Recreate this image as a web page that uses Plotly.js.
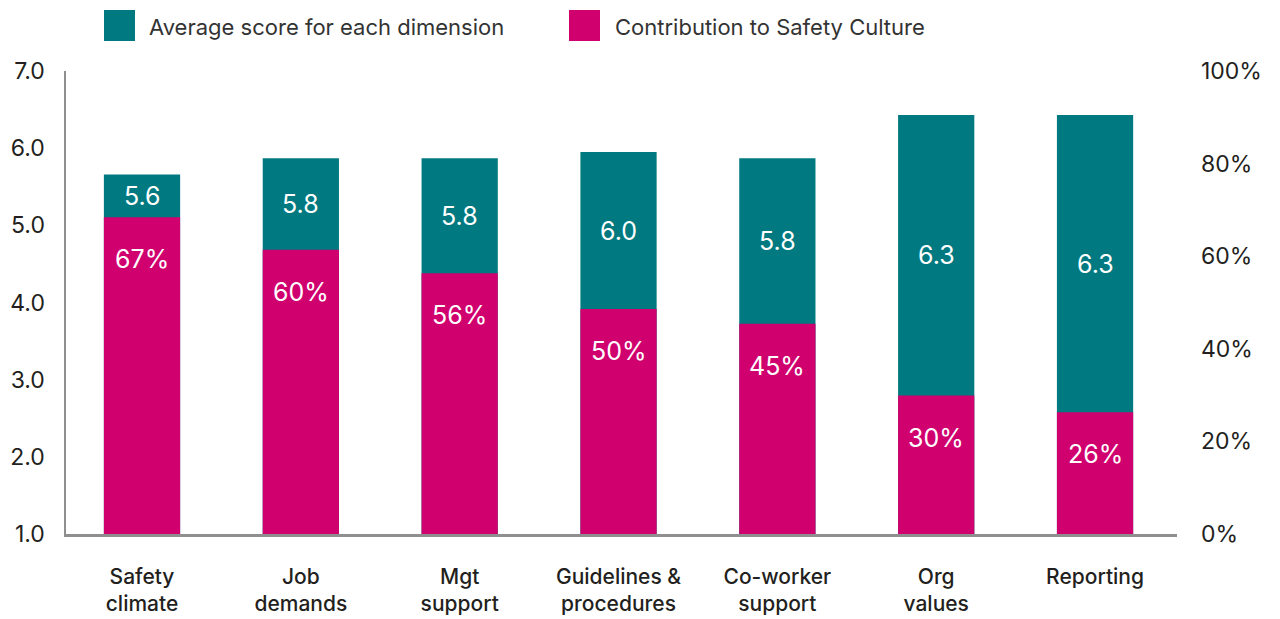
<!DOCTYPE html>
<html>
<head>
<meta charset="utf-8">
<script src="https://cdn.plot.ly/plotly-3.0.1.min.js"></script>
<style>
  html, body { margin: 0; padding: 0; background: #ffffff; }
  #chart { width: 1280px; height: 619px; }
</style>
</head>
<body>
<div id="chart"></div>
<script>
// ---- data ----
const categories = ['Safety<br>climate', 'Job<br>demands', 'Mgt<br>support', 'Guidelines &<br>procedures', 'Co-worker<br>support', 'Org<br>values', 'Reporting'];
// average score bar heights (left axis, 1-7) as drawn
const scoreHeights = [5.66, 5.87, 5.87, 5.95, 5.87, 6.43, 6.43];
// score labels as printed on the bars
const scoreLabels = ['5.6', '5.8', '5.8', '6.0', '5.8', '6.3', '6.3'];
// contribution to safety culture (right axis, %), as drawn
const contribHeights = [68.4, 61.4, 56.3, 48.6, 45.4, 29.9, 26.3];
// contribution labels as printed
const contribLabels = ['67%', '60%', '56%', '50%', '45%', '30%', '26%'];

const seriesNames = ['Average score for each dimension', 'Contribution to Safety Culture'];
const leftTicks = [1, 2, 3, 4, 5, 6, 7];
const rightTicks = [0, 20, 40, 60, 80, 100];

const TEAL = '#007A80';
const PINK = '#D0006F';
const FONT = 'Inter, Lato, "Noto Sans", sans-serif';
const DARK = '#231f20';

const xIdx = categories.map((_, i) => i);

const traces = [
  {
    type: 'bar', name: seriesNames[0], x: xIdx, y: scoreHeights,
    marker: { color: TEAL, line: { width: 0 } }, width: 0.48,
    xaxis: 'x', yaxis: 'y', hoverinfo: 'skip', showlegend: false
  },
  {
    type: 'bar', name: seriesNames[1], x: xIdx, y: contribHeights,
    marker: { color: PINK, line: { width: 0 } }, width: 0.48,
    xaxis: 'x', yaxis: 'y2', hoverinfo: 'skip', showlegend: false
  }
];

const annotations = [];
// score labels: centred in the visible teal part
scoreHeights.forEach((s, i) => {
  const pinkTopLeftUnits = 1 + contribHeights[i] / 100 * 6;
  annotations.push({
    x: i, y: (s + pinkTopLeftUnits) / 2, xref: 'x', yref: 'y',
    text: scoreLabels[i], showarrow: false, xanchor: 'center', yanchor: 'middle',
    font: { family: FONT, size: 25, color: '#ffffff' }
  });
});
// contribution labels: near the top inside the pink bar
contribHeights.forEach((c, i) => {
  annotations.push({
    x: i, y: c, xref: 'x', yref: 'y2', yshift: -42,
    text: contribLabels[i], showarrow: false, xanchor: 'center', yanchor: 'middle',
    font: { family: FONT, size: 25, color: '#ffffff' }
  });
});
// legend text
annotations.push({
  xref: 'paper', yref: 'paper', x: 0, y: 1, xshift: 81, yshift: 44,
  xanchor: 'left', yanchor: 'middle', showarrow: false,
  text: seriesNames[0], font: { family: FONT, size: 22, color: '#333333' }
});
annotations.push({
  xref: 'paper', yref: 'paper', x: 0, y: 1, xshift: 547, yshift: 44,
  xanchor: 'left', yanchor: 'middle', showarrow: false,
  text: seriesNames[1], font: { family: FONT, size: 22, color: '#333333' }
});

const shapes = [
  { type: 'rect', xref: 'paper', yref: 'paper', xsizemode: 'pixel', ysizemode: 'pixel',
    xanchor: 0, yanchor: 1, x0: 38, x1: 69, y0: 30, y1: 61,
    fillcolor: TEAL, line: { width: 0 } },
  { type: 'rect', xref: 'paper', yref: 'paper', xsizemode: 'pixel', ysizemode: 'pixel',
    xanchor: 0, yanchor: 1, x0: 503, x1: 534, y0: 30, y1: 61,
    fillcolor: PINK, line: { width: 0 } }
];

const layout = {
  width: 1280, height: 619,
  margin: { l: 66, r: 103, t: 71, b: 85, pad: 0 },
  paper_bgcolor: '#ffffff', plot_bgcolor: '#ffffff',
  barmode: 'overlay',
  showlegend: false,
  font: { family: FONT, color: DARK },
  xaxis: {
    range: [-0.4785, 6.516], tickmode: 'array', tickvals: xIdx, ticktext: categories,
    showgrid: false, zeroline: false, showline: true, linecolor: '#8f8f8f', linewidth: 2.5,
    ticks: '', ticklabelstandoff: 22,
    tickfont: { family: FONT, size: 21, color: DARK, weight: 500 }
  },
  yaxis: {
    range: [1, 7], tickmode: 'array', tickvals: leftTicks,
    ticktext: leftTicks.map(v => v.toFixed(1)),
    showgrid: false, zeroline: false, showline: true, linecolor: '#8f8f8f', linewidth: 2.5,
    ticks: '', ticklabelstandoff: 14,
    tickfont: { family: FONT, size: 23, color: DARK }
  },
  yaxis2: {
    range: [0, 100], overlaying: 'y', side: 'right', tickmode: 'array', tickvals: rightTicks,
    ticktext: rightTicks.map(v => v + '%'),
    showgrid: false, zeroline: false, showline: false,
    ticks: '', ticklabelstandoff: 23,
    tickfont: { family: FONT, size: 23, color: DARK }
  },
  annotations: annotations,
  shapes: shapes
};

Plotly.newPlot('chart', traces, layout, { staticPlot: true, displayModeBar: false });
</script>
</body>
</html>
